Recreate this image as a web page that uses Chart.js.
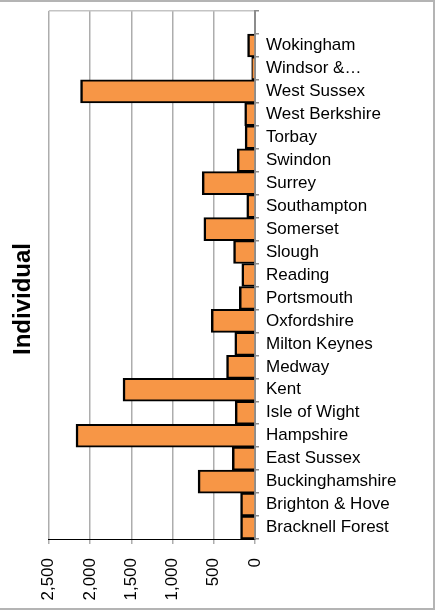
<!DOCTYPE html>
<html>
<head>
<meta charset="utf-8">
<script src="https://cdn.jsdelivr.net/npm/chart.js@4"></script>
<style>
html,body{margin:0;padding:0;background:#fff;}
#quadro{
position:absolute;left:0;top:0;width:435px;height:610px;box-sizing:border-box;
border-top:2px solid #b4b4b4;border-right:2px solid #b4b4b4;border-bottom:2px solid #b4b4b4;
}
</style>
</head>
<body>
<div id="quadro"><canvas id="grafico"></canvas></div>
<script>

/* =============================
DADOS
============================= */

const titulo="Individual";

const categorias=[
"","Wokingham","Windsor &…","West Sussex","West Berkshire","Torbay",
"Swindon","Surrey","Southampton","Somerset","Slough","Reading",
"Portsmouth","Oxfordshire","Milton Keynes","Medway","Kent",
"Isle of Wight","Hampshire","East Sussex","Buckinghamshire",
"Brighton & Hove","Bracknell Forest"
];

const valores=[
null,90,40,2115,125,120,
215,640,100,620,260,160,
190,530,245,345,1600,
240,2170,275,690,
175,175
];

const ticksValor=[0,500,1000,1500,2000,2500];

/* =============================
GRAFICO
============================= */

const fonte="'Liberation Sans', Arial, sans-serif";
const cinza="#adadad";

/* sobe o titulo um pouco (fica centrado como no Excel) */
const ajusteTitulo={
id:"ajusteTitulo",
afterLayout:(c)=>{ if(c.titleBlock) c.titleBlock.bottom-=21; }
};

new Chart(document.getElementById("grafico"),{
type:"bar",
data:{
labels:categorias,
datasets:[{
data:valores,
backgroundColor:"#f79646",
borderColor:"#000",
borderWidth:{top:2,bottom:2,left:2.5,right:2.5},
barPercentage:1,
categoryPercentage:1
}]
},
options:{
indexAxis:"y",
responsive:true,
maintainAspectRatio:false,
animation:false,
layout:{padding:{top:9,left:0,right:0,bottom:0}},
plugins:{
legend:{display:false},
tooltip:{enabled:false},
title:{
display:true,
text:titulo,
position:"left",
color:"#000",
font:{family:fonte,size:24,weight:"bold"},
padding:{top:9,bottom:11}
}
},
scales:{
x:{
reverse:true,
min:ticksValor[0],
max:ticksValor[ticksValor.length-1],
afterFit:(s)=>{s.height=69;s.paddingLeft=0;s.paddingRight=0;},
border:{display:true,color:"#000",width:1},
grid:{color:cinza,lineWidth:1.5,tickLength:5,tickColor:cinza},
ticks:{
stepSize:500,
minRotation:90,
maxRotation:90,
padding:14,
color:"#000",
font:{family:fonte,size:17},
callback:(v)=>Number(v).toLocaleString("en-US")
}
},
y:{
position:"right",
afterFit:(s)=>{s.width=178;s.paddingTop=0;s.paddingBottom=0;},
border:{display:true,color:"#8c8c8c",width:2},
grid:{
offset:true,
drawOnChartArea:true,
color:(ctx)=>ctx.index===0?"#c4c4c4":"rgba(0,0,0,0)",
tickColor:"#8c8c8c",
tickLength:4,
lineWidth:1.5
},
ticks:{
padding:7,
color:"#000",
autoSkip:false,
font:{family:fonte,size:17}
}
}
}
},
plugins:[ajusteTitulo]
});

</script>
</body>
</html>
